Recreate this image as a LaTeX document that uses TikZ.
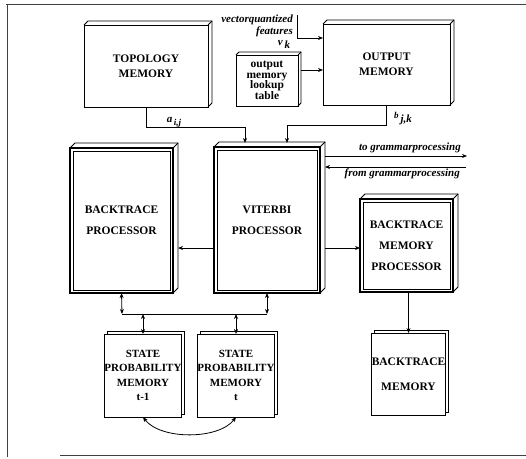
\documentclass[tikz,border=0pt]{standalone}
\usepackage{fontspec}
\setmainfont{Liberation Serif}
\usetikzlibrary{arrows.meta,calc}
\tikzset{
  edge/.style={line width=0.8pt, line join=miter},
  box/.style={draw, line width=0.9pt, fill=white, inner sep=0pt, outer sep=0pt, align=center,
              font=\fontsize{11.5}{15}\selectfont\bfseries},
  lut/.style={box, font=\fontsize{11.5}{10.5}\selectfont\bfseries},
  procbox/.style={box, line width=1.1pt, font=\fontsize{11.5}{21}\selectfont\bfseries},
  statebox/.style={box, font=\fontsize{11}{14.5}\selectfont\bfseries},
  arr/.style={edge, -{Stealth[length=5pt,width=4pt]}},
  darr/.style={edge, {Stealth[length=5pt,width=4pt]}-{Stealth[length=5pt,width=4pt]}},
  lbl/.style={inner sep=0pt, font=\fontsize{11}{12}\selectfont\bfseries\itshape},
  borderline/.style={line width=1pt, black!75}
}
\newcommand\mkextrude[2]{%
  \draw[edge] (#1.north west) -- ++(#2,-#2) -| ($(#1.south east)+(#2,-#2)$) -- (#1.south east);
  \draw[edge] (#1.north east) -- ++(#2,-#2);}
\newcommand\mkbackpage[1]{%
  \draw[edge] ($(#1.north west)+(3,0)$) |- ($(#1.north east)+(3,-3)$) |- ($(#1.south east)+(0,-3)$);}
\newcommand\mkinner[1]{%
  \draw[edge] ($(#1.north west)+(3,3)$) rectangle ($(#1.south east)+(-3,-3)$);}
\begin{document}
\begin{tikzpicture}[x=1pt,y=-1pt]
\useasboundingbox (0,0) rectangle (526,458);
% border lines
\draw[borderline] (6,4) -- (526,4);
\draw[borderline] (7,4) -- (7,456.5);
\draw[borderline] (60,455.5) -- (526,455.5);

% boxes
\node[box, minimum width=124pt, minimum height=82pt] (topo) at (146,66) {TOPOLOGY\\MEMORY};
\mkextrude{topo}{4}
\node[lut, minimum width=62pt, minimum height=51pt] (lut) at (267,80.5) {output\\memory\\lookup\\table};
\mkextrude{lut}{3}
\node[box, minimum width=127pt, minimum height=81pt] (out) at (386.5,64.5) {OUTPUT\\MEMORY};
\mkextrude{out}{4}

\node[procbox, minimum width=103pt, minimum height=145pt] (btp) at (121.5,220.5) {BACKTRACE\\PROCESSOR};
\mkinner{btp}
\mkextrude{btp}{5}
\node[procbox, minimum width=106pt, minimum height=146pt] (vit) at (267,220) {VITERBI\\PROCESSOR};
\mkinner{vit}
\mkextrude{vit}{5}
\node[procbox, minimum width=93pt, minimum height=93pt] (bmp) at (406.5,245.5) {BACKTRACE\\MEMORY\\PROCESSOR};
\mkinner{bmp}
\mkextrude{bmp}{5}

\node[statebox, minimum width=74pt, minimum height=83pt] (st1) at (143,375.5) {STATE\\PROBABILITY\\MEMORY\\t-1};
\mkbackpage{st1}
\node[statebox, minimum width=72pt, minimum height=83pt] (st2) at (236,375.5) {STATE\\PROBABILITY\\MEMORY\\t};
\mkbackpage{st2}
\node[box, font=\fontsize{11.5}{25}\selectfont\bfseries, minimum width=73pt, minimum height=82pt] (bm) at (408.5,374) {BACKTRACE\\MEMORY};
\mkbackpage{bm}

% inputs at top
\coordinate (vq) at (297,15);
\draw[arr] (vq) |- ($(out.north west)+(0,14)$);
\node[lbl, anchor=east] (vqt1) at (293,20) {vectorquantized};
\node[lbl, anchor=east] (vqt2) at (293,32) {features};
\node[lbl] (vk) at (284,44) {v\,\raisebox{-3pt}{k}};
\draw[arr] ($(lut.north east)+(3,15)$) -- ($(out.north west)+(0,46)$);

% into viterbi
\draw[arr] (topo.south) |- ++(99,20) -- ($(vit.north west)+(31,-4)$);
\node[lbl] (aij) at (174,122) {a\raisebox{-3pt}{\fontsize{9}{9}\selectfont\,i,j}};
\draw[arr] (out.south) |- ++(-99.5,20) -- ($(vit.north west)+(73,-4)$);
\node[lbl] (bjk) at (403,119) {\raisebox{2pt}{\fontsize{9}{9}\selectfont b}\raisebox{-2pt}{\,j,k}};

% grammar processing
\coordinate (tog) at (467,156);
\coordinate (fromg) at (466,167);
\draw[arr] ($(vit.north east)+(5,9)$) -- (tog);
\draw[arr] (fromg) -- ($(vit.north east)+(5,20)$);
\node[lbl, anchor=south east] (togt) at (461,153) {to grammarprocessing};
\node[lbl, anchor=north east] (fromgt) at (460,169) {from grammarprocessing};

% viterbi outputs
\draw[arr] ($(vit.west)+(0,28)$) -- ($(btp.east)+(5,27.5)$);
\draw[arr] ($(vit.east)+(5,28)$) -- ($(bmp.west)+(0,2.5)$);

% bus
\coordinate (bl) at (122,314);
\coordinate (br) at (267,314);
\draw[edge] (bl) -- (br);
\draw[darr] (btp.south) -- (bl);
\draw[darr] (vit.south) -- (br);
\draw[darr] (st1.north |- bl) -- (st1.north);
\draw[darr] (st2.north |- bl) -- (st2.north);

% backtrace memory
\draw[arr] (bm.north |- bmp.south) -- (bm.north);

% swap arrow
\draw[darr] (st1.south) .. controls +(17,23) and +(-17,23) .. (st2.south);
\end{tikzpicture}
\end{document}
